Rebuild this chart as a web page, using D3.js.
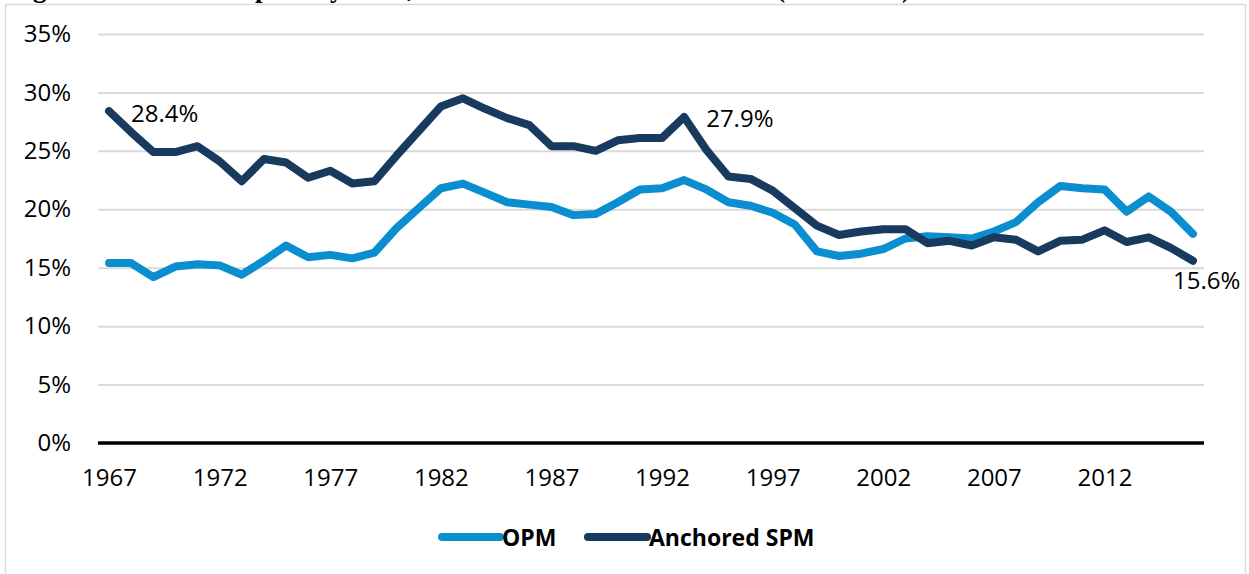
<!DOCTYPE html>
<html>
<head>
<meta charset="utf-8">
<script src="https://cdn.jsdelivr.net/npm/d3@7"></script>
<style>
  html, body { margin: 0; padding: 0; background: #fff; overflow: hidden; }
  svg { display: block; font-family: 'Open Sans', sans-serif; }
</style>
</head>
<body>
<svg id="chart" width="1249" height="574"></svg>
<script>
// years on the x axis
const years = d3.range(1967, 2017);
const xTickLabels = [1967, 1972, 1977, 1982, 1987, 1992, 1997, 2002, 2007, 2012];
const yTicks = [0, 5, 10, 15, 20, 25, 30, 35];

// official poverty measure, %
const opm = [
  15.4, 15.4, 14.2, 15.1, 15.3, 15.2, 14.4, 15.6, 16.9, 15.9,
  16.1, 15.8, 16.3, 18.4, 20.1, 21.8, 22.2, 21.4, 20.6, 20.4,
  20.2, 19.5, 19.6, 20.6, 21.7, 21.8, 22.5, 21.7, 20.6, 20.3,
  19.7, 18.7, 16.4, 16.0, 16.2, 16.6, 17.5, 17.7, 17.6, 17.5,
  18.1, 18.9, 20.6, 22.0, 21.8, 21.7, 19.8, 21.1, 19.8, 17.9
];

// anchored supplemental poverty measure, %
const spm = [
  28.4, 26.6, 24.9, 24.9, 25.4, 24.1, 22.4, 24.3, 24.0, 22.7,
  23.3, 22.2, 22.4, 24.6, 26.7, 28.8, 29.5, 28.6, 27.8, 27.2,
  25.4, 25.4, 25.0, 25.9, 26.1, 26.1, 27.9, 25.1, 22.8, 22.6,
  21.6, 20.1, 18.6, 17.8, 18.1, 18.3, 18.3, 17.1, 17.3, 16.9,
  17.6, 17.4, 16.4, 17.3, 17.4, 18.2, 17.2, 17.6, 16.7, 15.6
];

const seriesNames = ['OPM', 'Anchored SPM'];
const seriesColors = ['#0a8ed0', '#173a5e'];

// annotated points
const callouts = [
  { series: 1, year: 1967, text: '28.4%' },
  { series: 1, year: 1993, text: '27.9%' },
  { series: 1, year: 2016, text: '15.6%' }
];

const svg = d3.select('#chart');
const W = 1249, H = 574;
const plot = { left: 98, right: 1204, top: 34, bottom: 443 };

const x = d3.scalePoint().domain(years).range([plot.left, plot.right]).padding(0.5);
const y = d3.scaleLinear().domain([0, 35]).range([plot.bottom, plot.top]);

// chart frame (title sits above it, mostly outside the page)
svg.append('rect')
  .attr('x', 5.5).attr('y', 4.5)
  .attr('width', 1240).attr('height', H)
  .attr('fill', 'none').attr('stroke', '#d9d9d9').attr('stroke-width', 1.5);

const title = svg.append('text')
  .attr('y', -3.5)
  .style('font-family', "'Liberation Serif', serif")
  .style('font-weight', 'bold')
  .style('font-size', '27px')
  .attr('fill', '#000');
title.append('tspan').attr('x', 9).text('Figure 1. Historical');
title.append('tspan').attr('x', 255).text('poverty rates,');
title.append('tspan').attr('x', 440).text('OPM and Anchored SPM');
title.append('tspan').attr('x', 776).text('(1967-2016)');

// y axis + gridlines
const yAxis = svg.append('g')
  .attr('transform', `translate(${plot.left},0)`)
  .call(d3.axisLeft(y)
    .tickValues(yTicks)
    .tickFormat(d => d + '%')
    .tickSize(-(plot.right - plot.left))
    .tickPadding(27));
yAxis.select('.domain').remove();
yAxis.selectAll('.tick line')
  .attr('stroke', '#d9d9d9').attr('stroke-width', 2);
yAxis.selectAll('.tick text')
  .style('font-size', '24px').attr('fill', '#000')
  .style('font-family', "'Open Sans', sans-serif");

// x axis
const xAxis = svg.append('g')
  .attr('transform', `translate(0,${plot.bottom})`)
  .call(d3.axisBottom(x)
    .tickValues(xTickLabels)
    .tickSize(0)
    .tickPadding(26));
xAxis.select('.domain').remove();
xAxis.selectAll('.tick text')
  .style('font-size', '24px').attr('fill', '#000')
  .style('font-family', "'Open Sans', sans-serif");

svg.append('line')
  .attr('x1', plot.left).attr('x2', plot.right)
  .attr('y1', y(0)).attr('y2', y(0))
  .attr('stroke', '#000').attr('stroke-width', 3.5);

// lines
const line = d3.line()
  .x((d, i) => x(years[i]))
  .y(d => y(d));

[opm, spm].forEach((vals, k) => {
  svg.append('path')
    .datum(vals)
    .attr('d', line)
    .attr('fill', 'none')
    .attr('stroke', seriesColors[k])
    .attr('stroke-width', 8)
    .attr('stroke-linejoin', 'round')
    .attr('stroke-linecap', 'round');
});

// callout labels
const allSeries = [opm, spm];
const offsets = { 1967: [22, 11, 'start'], 1993: [22, 10, 'start'], 2016: [-20, 28, 'start'] };
callouts.forEach(c => {
  const v = allSeries[c.series][years.indexOf(c.year)];
  const o = offsets[c.year];
  svg.append('text')
    .attr('x', x(c.year) + o[0])
    .attr('y', y(v) + o[1])
    .attr('text-anchor', o[2])
    .style('font-size', '24px')
    .attr('fill', '#000')
    .text(c.text);
});

// legend
const legend = svg.append('g').attr('transform', 'translate(442,537)');
const legendItems = [
  { x: 0, lineW: 58 },
  { x: 146, lineW: 59 }
];
seriesNames.forEach((name, k) => {
  const g = legend.append('g').attr('transform', `translate(${legendItems[k].x},0)`);
  g.append('line')
    .attr('x1', 0).attr('x2', legendItems[k].lineW)
    .attr('y1', 0).attr('y2', 0)
    .attr('stroke', seriesColors[k])
    .attr('stroke-width', 8)
    .attr('stroke-linecap', 'round');
  g.append('text')
    .attr('x', legendItems[k].lineW + 2)
    .attr('y', 8.5)
    .style('font-size', '23px')
    .style('font-weight', 'bold')
    .attr('fill', '#000')
    .text(name);
});
</script>
</body>
</html>
